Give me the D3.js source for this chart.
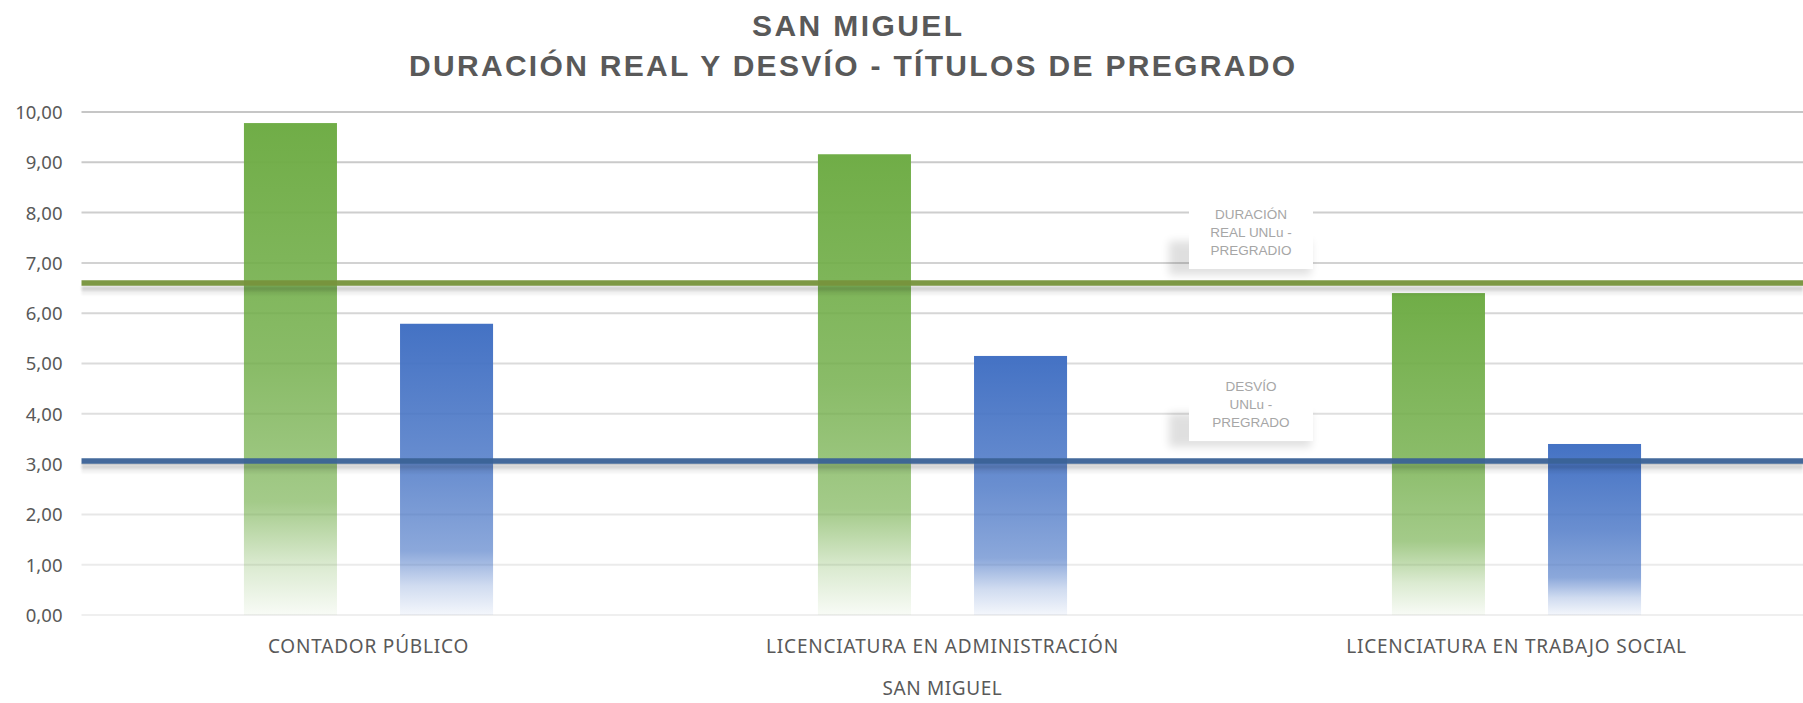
<!DOCTYPE html>
<html lang="es">
<head>
<meta charset="utf-8">
<script src="https://cdn.jsdelivr.net/npm/d3@7"></script>
<style>
  html, body { margin: 0; padding: 0; background: #ffffff; }
  svg { display: block; }
</style>
</head>
<body>
<svg id="chart" width="1803" height="703"></svg>
<script>
// Carreras de pregrado – sede San Miguel
const categories = ["CONTADOR PÚBLICO", "LICENCIATURA EN ADMINISTRACIÓN", "LICENCIATURA EN TRABAJO SOCIAL"];
const seriesNames = ["Duración real", "Desvío"];
const duracionReal = [9.78, 9.16, 6.40];
const desvio = [5.79, 5.15, 3.40];
// Referencias institucionales UNLu (líneas horizontales)
const refLabels = [["DURACIÓN", "REAL UNLu -", "PREGRADIO"], ["DESVÍO", "UNLu -", "PREGRADO"]];
const refValues = [6.60, 3.06];
const yTicks = [0, 1, 2, 3, 4, 5, 6, 7, 8, 9, 10];
const titleLines = ["SAN MIGUEL", "DURACIÓN REAL Y DESVÍO - TÍTULOS DE PREGRADO"];
const axisTitle = "SAN MIGUEL";

const svg = d3.select("#chart");
const W = 1803, H = 703;
const plot = { left: 81.5, right: 1803.5, top: 112, bottom: 615 };

const fmt = d3.formatLocale({ decimal: ",", thousands: ".", grouping: [3], currency: ["$", ""] }).format(".2f");

const x0 = d3.scaleBand().domain(categories).range([plot.left, plot.right]).padding(0);
const x1 = d3.scaleBand().domain(seriesNames)
  .range([x0.bandwidth() * 0.283, x0.bandwidth() * 0.717])
  .paddingInner(0.404).paddingOuter(0);
const y = d3.scaleLinear().domain([0, 10]).range([plot.bottom, plot.top]);

const barColors = { "Duración real": "#70ad47", "Desvío": "#4472c4" };
const refColors = ["#77933c", "#3a6296"];

const defs = svg.append("defs");
// Degradado vertical de cada serie: sólido arriba, se desvanece hacia la base
const gradStops = {
  "Duración real": [[0, 1], [0.5, 0.82], [0.77, 0.64], [0.9, 0.25], [1, 0.05]],
  "Desvío": [[0, 1], [0.5, 0.8], [0.78, 0.62], [0.9, 0.25], [1, 0.06]]
};
seriesNames.forEach((s, i) => {
  const g = defs.append("linearGradient").attr("id", "grad" + i)
    .attr("x1", 0).attr("y1", 0).attr("x2", 0).attr("y2", 1);
  gradStops[s].forEach(([o, a]) => {
    g.append("stop").attr("offset", o).attr("stop-color", barColors[s]).attr("stop-opacity", a);
  });
});
defs.append("filter").attr("id", "soft").attr("x", "-5%").attr("y", "-200%").attr("width", "110%").attr("height", "500%")
  .append("feGaussianBlur").attr("stdDeviation", 1.2);
defs.append("filter").attr("id", "boxShadow").attr("x", "-50%").attr("y", "-50%").attr("width", "200%").attr("height", "200%")
  .append("feGaussianBlur").attr("stdDeviation", 4);

// Título
const title = svg.append("g").attr("font-family", "'Liberation Sans', Arial, sans-serif")
  .attr("font-weight", "bold").attr("font-size", 30).attr("fill", "#595959").attr("text-anchor", "middle");
title.append("text").attr("x", 857).attr("y", 36).attr("textLength", 210).attr("lengthAdjust", "spacing").text(titleLines[0]);
title.append("text").attr("x", 852).attr("y", 76).attr("textLength", 886).attr("lengthAdjust", "spacing").text(titleLines[1]);

// Líneas de grilla
const gridColor = d3.scaleLinear().domain([0, 10]).range(["#efefef", "#c6c6c6"]);
svg.append("g").selectAll("line").data(yTicks).join("line")
  .attr("x1", plot.left).attr("x2", W)
  .attr("y1", d => y(d)).attr("y2", d => y(d))
  .attr("stroke", d => gridColor(d)).attr("stroke-width", 2);

// Eje Y
const yAxis = svg.append("g").attr("transform", `translate(${plot.left - 19},0)`)
  .call(d3.axisLeft(y).tickValues(yTicks).tickFormat(fmt).tickSize(0).tickPadding(0));
yAxis.select(".domain").remove();
yAxis.selectAll("text").attr("font-family", "'Noto Sans', sans-serif").attr("font-size", 18.5)
  .attr("fill", "#595959").attr("dy", "0.35em");

// Barras
const data = categories.map((c, i) => ({ cat: c, values: [duracionReal[i], desvio[i]] }));
const groups = svg.append("g").selectAll("g").data(data).join("g")
  .attr("transform", d => `translate(${x0(d.cat)},0)`);
groups.selectAll("rect").data(d => d.values.map((v, j) => ({ s: seriesNames[j], j, v })))
  .join("rect")
  .attr("x", d => x1(d.s)).attr("width", x1.bandwidth())
  .attr("y", d => y(d.v)).attr("height", d => y(0) - y(d.v))
  .attr("fill", d => `url(#grad${d.j})`);

// Líneas de referencia con sombra
const refs = svg.append("g");
refValues.forEach((v, i) => {
  refs.append("rect").attr("x", plot.left).attr("width", W - plot.left)
    .attr("y", y(v) + 3).attr("height", 5).attr("fill", "#000").attr("opacity", 0.16).attr("filter", "url(#soft)");
  refs.append("rect").attr("x", plot.left).attr("width", W - plot.left)
    .attr("y", y(v) + 8).attr("height", 4).attr("fill", "#000").attr("opacity", 0.05).attr("filter", "url(#soft)");
  refs.append("line").attr("x1", plot.left).attr("x2", W)
    .attr("y1", y(v)).attr("y2", y(v))
    .attr("stroke", refColors[i]).attr("stroke-width", 5.5).attr("opacity", 0.95);
});

// Etiquetas de las líneas de referencia
const boxX = 1189, boxW = 124, boxH = 64;
const boxGap = [14, 20];
refValues.forEach((v, i) => {
  const by = y(v) - boxGap[i] - boxH;
  const g = svg.append("g");
  g.append("rect").attr("x", boxX - 20).attr("y", by + 36).attr("width", boxW + 18).attr("height", boxH - 30)
    .attr("fill", "#000").attr("opacity", 0.12).attr("filter", "url(#boxShadow)");
  g.append("rect").attr("x", boxX).attr("y", by).attr("width", boxW).attr("height", boxH).attr("fill", "#ffffff");
  g.append("g").attr("font-family", "'Liberation Sans', Arial, sans-serif").attr("font-size", 13.5)
    .attr("fill", "#a6a6a6").attr("text-anchor", "middle")
    .selectAll("text").data(refLabels[i]).join("text")
    .attr("x", boxX + boxW / 2).attr("y", (d, k) => by + 14 + k * 18).text(d => d);
});

// Eje X (categorías)
const xAxis = svg.append("g").attr("transform", `translate(0,${plot.bottom})`)
  .call(d3.axisBottom(x0).tickSize(0).tickPadding(0));
xAxis.select(".domain").remove();
xAxis.selectAll("text").attr("font-family", "'Noto Sans', sans-serif").attr("font-size", 19)
  .attr("fill", "#595959").attr("letter-spacing", 0.8).attr("y", 38).attr("dy", 0);

svg.append("text").attr("x", (plot.left + plot.right) / 2).attr("y", 695)
  .attr("text-anchor", "middle").attr("font-family", "'Noto Sans', sans-serif").attr("font-size", 19)
  .attr("letter-spacing", 0.6).attr("fill", "#595959").text(axisTitle);
</script>
</body>
</html>
